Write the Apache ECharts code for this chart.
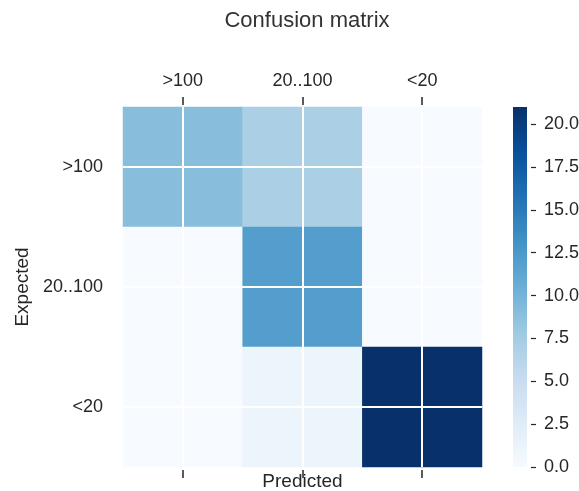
<!DOCTYPE html>
<html lang="en">
<head>
    <meta charset="UTF-8">
    <script src="https://cdn.jsdelivr.net/npm/echarts@6/dist/echarts.min.js"></script>
    <title>Confusion matrix</title>
</head>
<body style="margin:0;background:#fff;">
<div id="main" style="width:579px;height:491px;"></div>
<script type="text/javascript">
    // categories (rows = expected, columns = predicted)
    var predicted = ['>100', '20..100', '<20'];
    var expected = ['>100', '20..100', '<20'];
    // counts, one array per expected row
    var rowOver100 = [9, 7, 0];
    var row20to100 = [0, 12, 0];
    var rowUnder20 = [0, 1, 21];
    var colorbarTicks = [0, 2.5, 5, 7.5, 10, 12.5, 15, 17.5, 20];
    var colorMax = 21;

    // matplotlib "Blues"
    var blues = ['#f7fbff', '#deebf7', '#c6dbef', '#9ecae1', '#6baed6',
                 '#4292c6', '#2171b5', '#08519c', '#08306b'];

    var rows = [rowOver100, row20to100, rowUnder20];
    var cells = [];
    for (var i = 0; i < rows.length; i++) {
        for (var j = 0; j < rows[i].length; j++) {
            cells.push([j, i, rows[i][j]]);
        }
    }

    var gradStops = blues.map(function (c, k) {
        return {offset: 1 - k / (blues.length - 1), color: c};
    });

    var txt = '#262626';
    var font = 'Liberation Sans';

    var myChart = echarts.init(document.getElementById('main'));
    var option = {
        animation: false,
        title: {
            text: 'Confusion matrix',
            left: 302,
            textAlign: 'center',
            top: 5,
            textStyle: {fontFamily: font, fontSize: 22, fontWeight: 'normal', color: '#333'}
        },
        grid: [
            {left: 123, top: 107, width: 359, height: 360, outerBoundsMode: 'none'},
            {left: 513, top: 107, width: 14, height: 360, outerBoundsMode: 'none'}
        ],
        visualMap: {
            show: false,
            seriesIndex: 0,
            min: 0,
            max: colorMax,
            inRange: {color: blues}
        },
        xAxis: [
            {
                type: 'category', data: predicted, gridIndex: 0, position: 'bottom', offset: 3,
                axisLine: {show: false},
                axisTick: {show: true, alignWithLabel: true, length: 8, lineStyle: {color: txt, width: 1.5}},
                axisLabel: {show: false},
                splitLine: {show: false},
                name: 'Predicted', nameLocation: 'middle', nameGap: 2,
                nameTextStyle: {fontFamily: font, fontSize: 19, color: txt}
            },
            {
                type: 'category', data: predicted, gridIndex: 0, position: 'top', offset: 2,
                axisLine: {show: false},
                axisTick: {show: true, alignWithLabel: true, length: 8, lineStyle: {color: txt, width: 1.5}},
                axisLabel: {fontFamily: font, fontSize: 18, color: txt, margin: 15},
                splitLine: {show: false}
            },
            {
                type: 'category', data: ['c'], gridIndex: 1,
                show: false
            }
        ],
        yAxis: [
            {
                type: 'category', data: expected, gridIndex: 0, inverse: true,
                axisLine: {show: false},
                axisTick: {show: false},
                axisLabel: {fontFamily: font, fontSize: 18, color: txt, margin: 20},
                splitLine: {show: false},
                name: 'Expected', nameLocation: 'middle', nameGap: 90, nameRotate: 90,
                nameTextStyle: {fontFamily: font, fontSize: 19, color: txt}
            },
            {
                type: 'value', gridIndex: 1, position: 'right', min: 0, max: colorMax, offset: 4,
                axisLine: {show: false},
                axisTick: {show: true, length: 5, lineStyle: {color: txt, width: 1.2}, customValues: colorbarTicks},
                axisLabel: {
                    fontFamily: font, fontSize: 18, color: txt, margin: 13,
                    customValues: colorbarTicks,
                    formatter: function (v) { return v.toFixed(1); }
                },
                splitLine: {show: false}
            }
        ],
        series: [
            {
                type: 'heatmap',
                xAxisIndex: 0,
                yAxisIndex: 0,
                data: cells,
                silent: true,
                markLine: {
                    silent: true,
                    symbol: ['none', 'none'],
                    label: {show: false},
                    lineStyle: {color: '#ffffff', width: 2, type: 'solid'},
                    data: predicted.map(function (c) { return {xAxis: c}; })
                        .concat(expected.map(function (c) { return {yAxis: c}; }))
                }
            },
            {
                type: 'bar',
                xAxisIndex: 2,
                yAxisIndex: 1,
                barWidth: '100%',
                silent: true,
                data: [colorMax],
                itemStyle: {
                    color: new echarts.graphic.LinearGradient(0, 0, 0, 1, gradStops)
                }
            }
        ]
    };
    myChart.setOption(option);
</script>
</body>
</html>
